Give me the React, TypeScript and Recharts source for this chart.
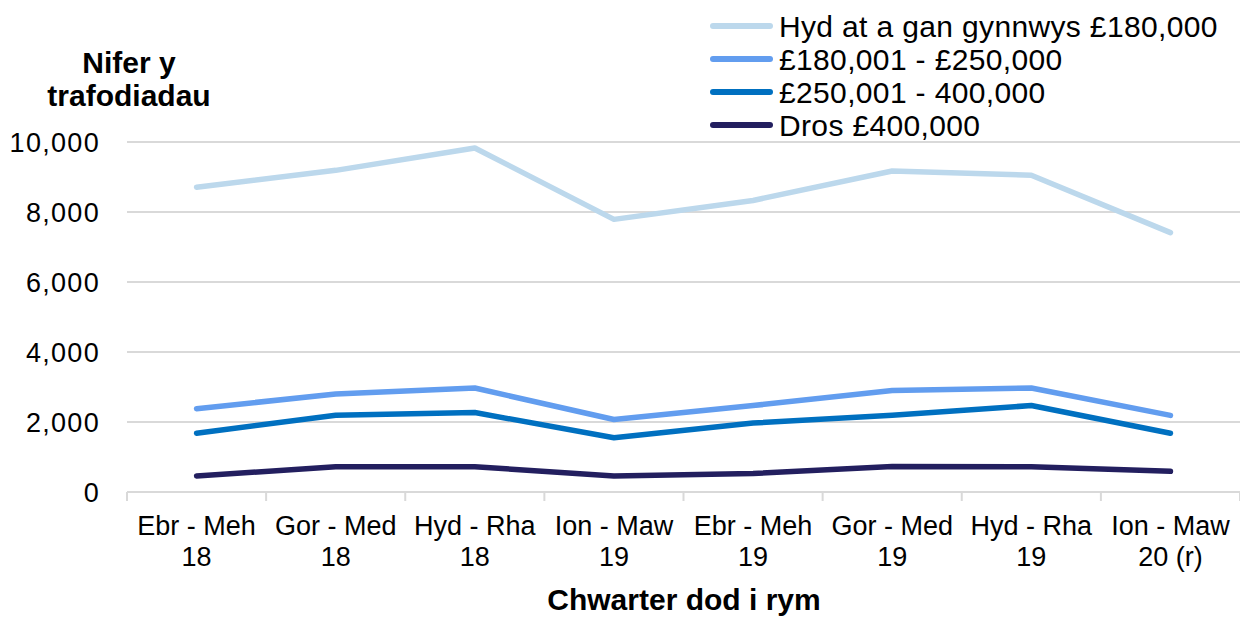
import { CartesianGrid, Legend, Line, LineChart, XAxis, YAxis } from "recharts";

const quarterNames = ["Ebr - Meh", "Gor - Med", "Hyd - Rha", "Ion - Maw", "Ebr - Meh", "Gor - Med", "Hyd - Rha", "Ion - Maw"];
const quarterYears = ["18", "18", "18", "19", "19", "19", "19", "20 (r)"];

const upTo180k = [8710, 9190, 9830, 7790, 8330, 9170, 9050, 7410];
const from180kTo250k = [2380, 2800, 2970, 2070, 2470, 2900, 2970, 2190];
const from250kTo400k = [1680, 2190, 2270, 1550, 1970, 2190, 2470, 1680];
const over400k = [460, 720, 720, 460, 530, 730, 720, 590];

const seriesNames = ["Hyd at a gan gynnwys £180,000", "£180,001 - £250,000", "£250,001 - 400,000", "Dros £400,000"];
const seriesColors = ["#bcd8ec", "#629def", "#0070c0", "#231f5f"];
const yTicks = [0, 2000, 4000, 6000, 8000, 10000];

const data = quarterNames.map((q, i) => ({
  quarter: q + "\n" + quarterYears[i],
  s0: upTo180k[i],
  s1: from180kTo250k[i],
  s2: from250kTo400k[i],
  s3: over400k[i],
}));

const FONT = "'Liberation Sans', Arial, sans-serif";
const GRID = "#d9d9d9";

function QuarterTick(props: any) {
  const { x, y, payload, index, visibleTicksCount } = props;
  const [name, year] = String(payload.value).split("\n");
  const half = payload.offset || 0;
  const last = index === visibleTicksCount - 1;
  return (
    <g>
      {half > 0 && <line x1={x - half} x2={x - half} y1={y} y2={y + 9} stroke={GRID} strokeWidth={2} />}
      {half > 0 && last && <line x1={x + half} x2={x + half} y1={y} y2={y + 9} stroke={GRID} strokeWidth={2} />}
      <text x={x} y={y + 43} textAnchor="middle" fontSize={27} fill="#000" fontFamily={FONT}>
        {name}
      </text>
      <text x={x} y={y + 74} textAnchor="middle" fontSize={27} fill="#000" fontFamily={FONT}>
        {year}
      </text>
    </g>
  );
}

function LegendBox() {
  return (
    <svg width={540} height={150}>
      {seriesNames.map((name, i) => (
        <g key={name}>
          <line x1={16} x2={73} y1={26 + i * 33} y2={26 + i * 33} stroke={seriesColors[i]} strokeWidth={6} strokeLinecap="round" />
          <text x={82} y={37 + i * 33} fontSize={30} fill="#000" fontFamily={FONT} letterSpacing={0.35}>
            {name}
          </text>
        </g>
      ))}
    </svg>
  );
}

export default function App() {
  return (
    <div style={{ position: "absolute", left: 0, top: 0, width: 1240, height: 617, background: "#fff", fontFamily: FONT }}>
      <LineChart width={1240} height={617} data={data} margin={{ top: 142, right: 0, bottom: 0, left: 0 }}>
        <CartesianGrid vertical={false} stroke={GRID} strokeWidth={2} />
        <XAxis
          dataKey="quarter"
          scale="band"
          height={125}
          interval={0}
          axisLine={{ stroke: GRID, strokeWidth: 2 }}
          tickLine={false}
          tickSize={0}
          tickMargin={0}
          tick={<QuarterTick />}
        />
        <YAxis
          width={127}
          domain={[0, 10000]}
          ticks={yTicks}
          axisLine={false}
          tickLine={false}
          tickSize={0}
          tickMargin={27}
          tick={{ fontSize: 27, fill: "#000", fontFamily: FONT, letterSpacing: 1.3 }}
          tickFormatter={(v: number) => v.toLocaleString("en-GB")}
        />
        <Legend
          layout="vertical"
          align="center"
          verticalAlign="middle"
          wrapperStyle={{ left: 697, top: 0, width: 540, height: 150 }}
          content={() => <LegendBox />}
        />
        {["s0", "s1", "s2", "s3"].map((k, i) => (
          <Line
            key={k}
            dataKey={k}
            name={seriesNames[i]}
            type="linear"
            stroke={seriesColors[i]}
            strokeWidth={5.5}
            strokeLinecap="round"
            strokeLinejoin="round"
            dot={false}
            activeDot={false}
            isAnimationActive={false}
          />
        ))}
      </LineChart>
      <div style={{ position: "absolute", left: 29, top: 46, width: 200, textAlign: "center", fontSize: 30, fontWeight: 700, lineHeight: "33px" }}>
        Nifer y
        <br />
        trafodiadau
      </div>
      <div style={{ position: "absolute", left: 434, top: 583, width: 500, textAlign: "center", fontSize: 30, fontWeight: 700, lineHeight: "33px" }}>
        Chwarter dod i rym
      </div>
    </div>
  );
}
